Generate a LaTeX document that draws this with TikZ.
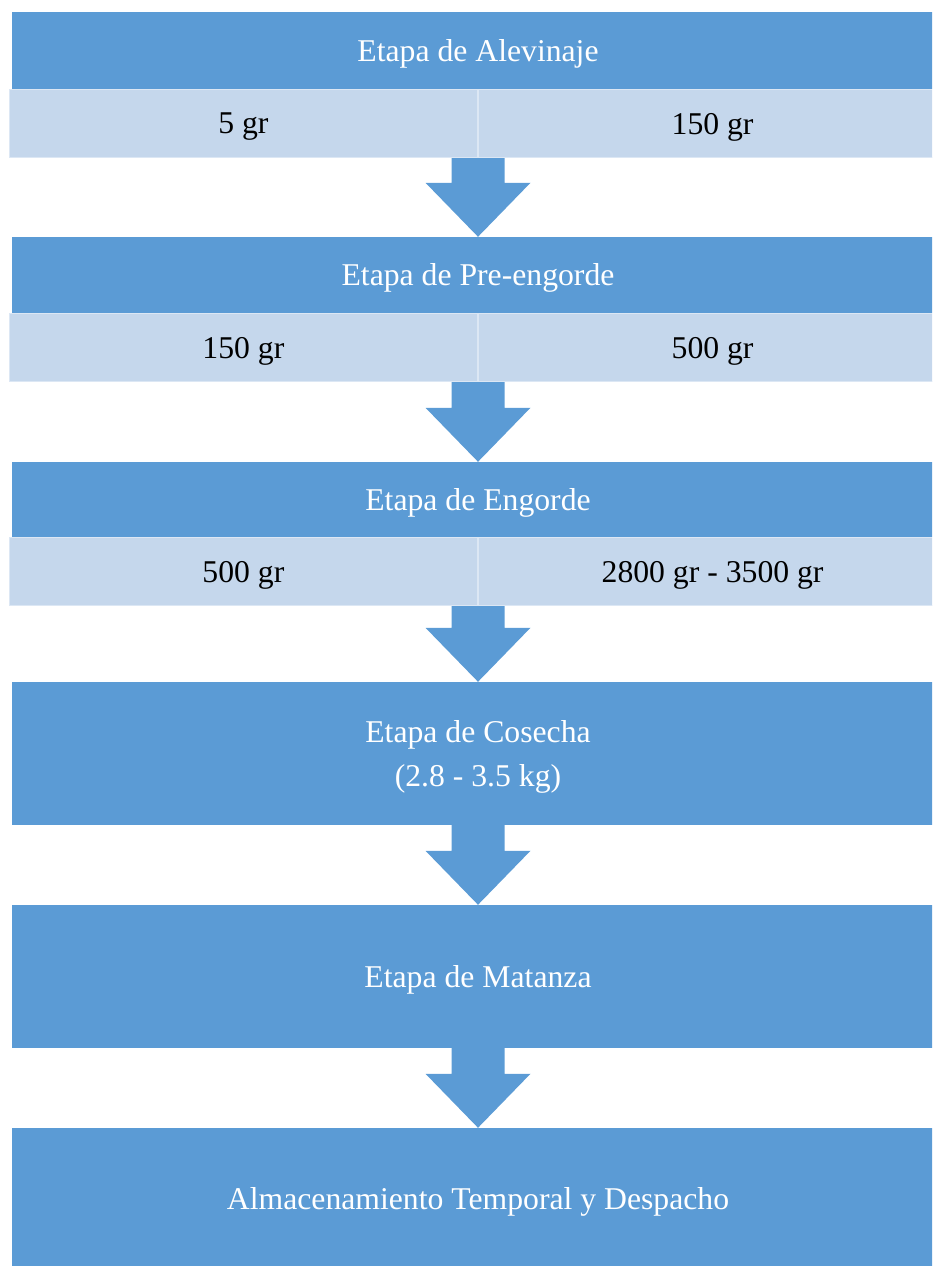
\documentclass[tikz,border=0pt]{standalone}
\usepackage{fontspec}
\setmainfont{Liberation Serif}
\usepackage{tikz}
\usetikzlibrary{positioning,calc}
\usepackage{xcolor}
\definecolor{etBlue}{HTML}{5B9BD5}
\definecolor{etLight}{HTML}{C5D7EC}
\definecolor{etLine}{HTML}{DCE7F4}
\tikzset{
  hdr/.style={fill=etBlue, minimum width=932pt, inner sep=0pt, text depth=0pt, text=white, align=center, font=\fontsize{31.7}{44}\selectfont},
  cel/.style={fill=etLight, draw=etLine, line width=1.2pt, minimum width=468pt, minimum height=68pt, inner sep=0pt, text depth=0pt, font=\fontsize{31.7}{38}\selectfont},
}
\newcommand{\flecha}[2]{%
  \fill[etBlue] ($(#1)+(-26.5,0)$) -- ($(#2)+(-26.5,54)$) -- ($(#2)+(-52.5,54)$) -- (#2)
    -- ($(#2)+(52.5,54)$) -- ($(#2)+(26.5,54)$) -- ($(#1)+(26.5,0)$) -- cycle;}

\begin{document}
\begin{tikzpicture}[x=1pt,y=1pt]
  \useasboundingbox (0,0) rectangle (932,1266);
  \clip (0,0) rectangle (932,1266);
  % etapas con pesos
  \node[hdr, minimum height=77pt] (hd1) at (478,1215.5) {Etapa de Alevinaje};
  \node[cel, anchor=north east] (s1l) at (478,1177) {5 gr};
  \node[cel, anchor=north west] (s1r) at (478,1177) {150 gr};
  \node[hdr, minimum height=76pt] (hd2) at (478,991) {Etapa de Pre-engorde};
  \node[cel, anchor=north east] (s2l) at (478,953) {150 gr};
  \node[cel, anchor=north west] (s2r) at (478,953) {500 gr};
  \node[hdr, minimum height=75pt] (hd3) at (478,766.5) {Etapa de Engorde};
  \node[cel, anchor=north east] (s3l) at (478,729) {500 gr};
  \node[cel, anchor=north west] (s3r) at (478,729) {2800 gr - 3500 gr};
  % etapas finales
  \node[hdr, minimum height=143pt] (hd4) at (478,512.5) {Etapa de Cosecha\\(2.8 - 3.5 kg)};
  \node[hdr, minimum height=143pt] (hd5) at (478,289.5) {Etapa de Matanza};
  \node[hdr, minimum height=142pt] (hd6) at (478,67) {Almacenamiento Temporal y Despacho};
  % flechas
  \flecha{s1l.south east}{hd2.north}
  \flecha{s2l.south east}{hd3.north}
  \flecha{s3l.south east}{hd4.north}
  \flecha{hd4.south}{hd5.north}
  \flecha{hd5.south}{hd6.north}
\end{tikzpicture}
\end{document}
